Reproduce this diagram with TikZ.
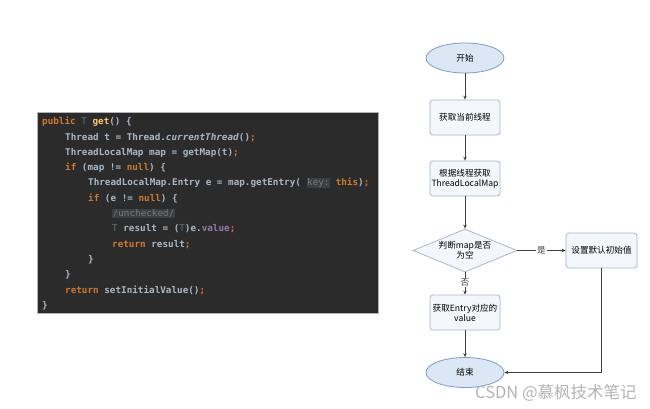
\documentclass[tikz,border=0pt]{standalone}
\usepackage{fontspec}
\setmonofont{DejaVu Sans Mono}
\newfontfamily\cjk{Noto Sans CJK SC}
\usetikzlibrary{shapes.geometric,arrows.meta}
\definecolor{codebg}{HTML}{2B2B2B}
\definecolor{codefg}{HTML}{A9B7C6}
\definecolor{kw}{HTML}{CC7832}
\definecolor{fn}{HTML}{FFC66D}
\definecolor{fld}{HTML}{9876AA}
\definecolor{hint}{HTML}{3B3F41}
\definecolor{hintfg}{HTML}{787878}
\definecolor{tparam}{HTML}{507874}
\definecolor{ellfill}{HTML}{DCE7F6}
\definecolor{ellline}{HTML}{7E9DC6}
\definecolor{boxfill}{HTML}{F3F6FB}
\definecolor{boxline}{HTML}{A6B8D2}
\definecolor{arr}{HTML}{404040}
\definecolor{wm}{HTML}{B4B4B4}
\newcommand{\kwd}[1]{\textcolor{kw}{#1}}
\newcommand{\hintbox}[1]{{\setlength{\fboxsep}{0.6pt}\colorbox{hint}{\textcolor{hintfg}{\mdseries#1}}}}
\begin{document}
\begin{tikzpicture}[x=1pt,y=-1pt,
  codeline/.style={anchor=west,inner sep=0pt,text=codefg,font=\ttfamily\bfseries\fontsize{9.3}{10}\selectfont},
  term/.style={ellipse,draw=ellline,fill=ellfill,line width=0.8pt,minimum width=78pt,minimum height=30pt,inner sep=0pt,font=\cjk\fontsize{8.6}{10}\selectfont},
  procbox/.style={rectangle,rounded corners=3pt,draw=boxline,fill=boxfill,line width=0.8pt,minimum width=70pt,minimum height=35pt,inner sep=1pt,align=center,font=\cjk\fontsize{8.6}{10}\selectfont},
  decide/.style={diamond,draw=boxline,fill=boxfill,line width=0.8pt,minimum width=104pt,minimum height=43pt,aspect=2.42,inner sep=0pt,align=center,font=\cjk\fontsize{8.6}{10}\selectfont},
  flow/.style={draw=arr,line width=1pt,-{Stealth[length=4pt,width=3.5pt]}},
  lbl/.style={fill=white,inner sep=1pt,font=\cjk\fontsize{8.6}{10}\selectfont,text=arr}
]
\useasboundingbox (0,0) rectangle (650,409);
\fill[white] (0,0) rectangle (650,409);

% code panel
\node[draw=gray!60,fill=codebg,line width=0.5pt,minimum width=341pt,minimum height=201pt,anchor=north west,inner sep=0pt] (panel) at (37,112) {};
\node[codeline] (l1) at (42,122) {\kwd{public} \textcolor{tparam}{\mdseries T} \textcolor{fn}{get}() \{};
\node[codeline] (l2) at (65,137.3) {Thread t = Thread.\textit{currentThread}()\kwd{;}};
\node[codeline] (l3) at (65,152.6) {ThreadLocalMap map = getMap(t)\kwd{;}};
\node[codeline] (l4) at (65,167.9) {\kwd{if} (map != \kwd{null}) \{};
\node[codeline] (l5) at (88,183.2) {ThreadLocalMap.Entry e = map.getEntry( \hintbox{key:} \kwd{this})\kwd{;}};
\node[codeline] (l6) at (88,198.5) {\kwd{if} (e != \kwd{null}) \{};
\node[codeline] (l7) at (112,213.8) {\hintbox{/unchecked/}};
\node[codeline] (l8) at (112,229.1) {\textcolor{tparam}{\mdseries T} result = (\textcolor{tparam}{\mdseries T})e.\textcolor{fld}{value}\kwd{;}};
\node[codeline] (l9) at (112,244.4) {\kwd{return} result\kwd{;}};
\node[codeline] (l10) at (88,259.7) {\}};
\node[codeline] (l11) at (65,275) {\}};
\node[codeline] (l12) at (65,290.3) {\kwd{return} setInitialValue()\kwd{;}};
\node[codeline] (l13) at (42,305.6) {\}};

% flowchart
\node[term] (start) at (465,58) {开始};
\node[procbox] (cur) at (465,117.5) {获取当前线程};
\node[procbox] (tlm) at (465,178.5) {根据线程获取\\ThreadLocalMap};
\node[decide] (dec) at (465,250.5) {判断map是否\\为空};
\node[procbox,minimum width=71pt] (init) at (601.5,250.5) {设置默认初始值};
\node[procbox] (val) at (465,312.5) {获取Entry对应的\\value};
\node[term] (end) at (465,372.5) {结束};

\draw[flow] (start) -- (cur);
\draw[flow] (cur) -- (tlm);
\draw[flow] (tlm) -- (dec);
\draw[flow] (dec) -- node[lbl] {是} (init);
\draw[flow] (dec) -- node[lbl,pos=0.45] {否} (val);
\draw[flow] (val) -- (end);
\draw[flow] (init.south) |- (end.east);

% watermark
\node[anchor=west,inner sep=0pt,text=wm,font=\cjk\fontsize{16.5}{18}\selectfont] (wmark) at (475,393) {CSDN @慕枫技术笔记};
\end{tikzpicture}
\end{document}
